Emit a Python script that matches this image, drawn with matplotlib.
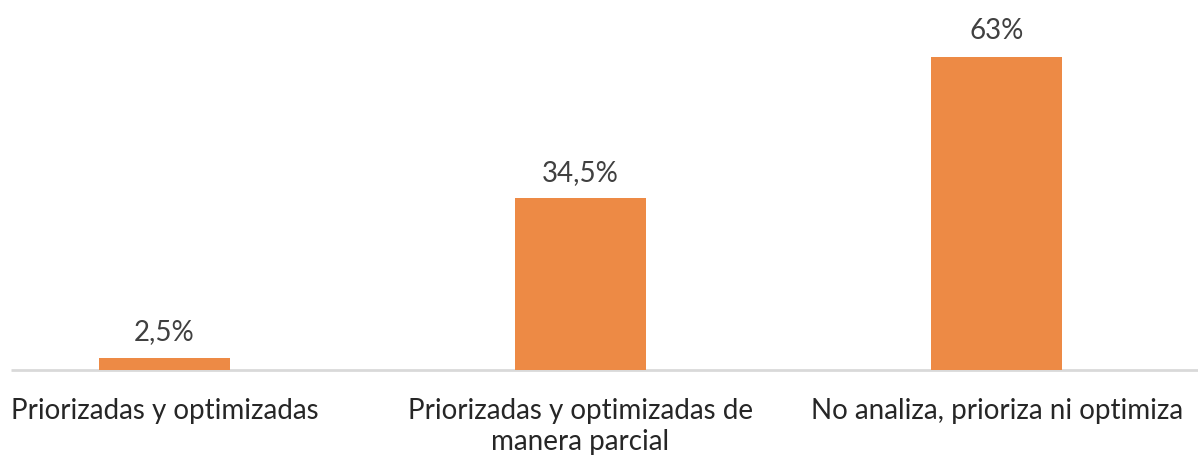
import matplotlib
matplotlib.use("Agg")
import matplotlib.pyplot as plt

# porcentajes por categoria
categorias = ["Priorizadas y optimizadas",
              "Priorizadas y optimizadas de\nmanera parcial",
              "No analiza, prioriza ni optimiza"]
valores = [2.5, 34.5, 63]
etiquetas = ["2,5%", "34,5%", "63%"]

plt.rcParams['font.family'] = ['Lato', 'DejaVu Sans']

fig = plt.figure(figsize=(11.98, 4.59), dpi=100)
ax = fig.add_axes([0, 0, 1, 1])

x = range(len(valores))
bars = ax.bar(x, valores, width=0.315, color="#ED8A45", zorder=2)

ax.set_xlim(-0.395, 2.484)
ax.set_ylim(-17.9, 74.4)

# linea base gris
ax.hlines(0, -0.369, 2.484, color="#D9D9D9", linewidth=2, zorder=1)

for b, txt in zip(bars, etiquetas):
    ax.annotate(txt, (b.get_x() + b.get_width() / 2, b.get_height()),
                xytext=(0, 9), textcoords="offset points",
                ha="center", va="bottom", fontsize=20, color="#404040")

for i, cat in enumerate(categorias):
    ax.annotate(cat, (i, 0), xytext=(0, -20), textcoords="offset points",
                ha="center", va="top", fontsize=20, color="#262626",
                linespacing=1.25)

ax.axis("off")
fig.savefig("out.png", dpi=100, facecolor="white")
